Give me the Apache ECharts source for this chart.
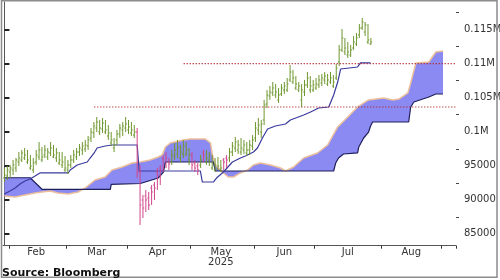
<!DOCTYPE html>
<html><head><meta charset="utf-8">
<script src="https://cdn.jsdelivr.net/npm/echarts@6/dist/echarts.min.js"></script>
<style>html,body{margin:0;padding:0;background:#fff}#c{width:500px;height:280px}</style>
</head><body><div id="c"></div>
<script>
// ---- categories (weekday axis) ----
const startDay = [2025, 0, 30];
const endDay = [2025, 8, 5];
const monthNames = ['Jan','Feb','Mar','Apr','May','Jun','Jul','Aug','Sep','Oct','Nov','Dec'];
const yearLabelMonth = 4; // May carries the year
const yearText = '2025';

// ---- OHLC bars ----
const barOpen = [93200,93500,94080,94380,94670,95550,95850,96140,95550,94670,
94380,95550,96290,95850,96580,96290,96880,96290,96140,95400,
95110,94380,94380,95110,95850,96290,97020,97320,97460,97900,
99080,99820,100550,99960,100400,99960,99370,98350,97610,98790,
99670,100260,100550,100260,99820,99520,99960,94080,89970,90550,
90260,91730,92170,94080,94670,96140,96580,95550,95550,96430,
96730,96140,96730,96730,95850,96580,95400,94960,95110,96880,
95550,95850,94670,94380,94520,94380,95850,96140,96140,97020,
97610,97320,97020,97320,96880,97320,97900,99080,100260,99960,
101730,104080,105250,105700,105400,104670,105550,106140,106140,107610,
107310,106430,106140,104670,105840,106870,106140,106140,106430,106870,
107170,107610,107020,107310,106720,107900,110250,112020,111720,111280,
111280,112310,112900,114220,115250,114660,113190,112900];
const barHigh = [94670,94960,95110,95850,96140,97020,97320,97610,97320,96580,
96140,97320,98490,97760,98050,97610,98490,98050,97610,97020,
97020,96430,95850,96580,97320,97610,98200,98490,98790,99370,
100550,101430,102170,101730,102020,101730,100990,99960,99080,100260,
101140,101430,102170,101730,101430,100990,100550,95110,90700,91440,
91140,92170,92610,94670,95110,96580,97020,96140,97320,98350,
98790,98050,98790,98490,97610,97020,95850,95400,96580,97320,
97320,97020,96580,96140,96290,95850,96140,96580,97610,98490,
99230,98790,99080,98790,98490,98790,99520,101430,102020,101730,
104670,106140,106720,107310,107020,106430,107020,107310,107900,109810,
109080,108190,107310,107020,107610,108780,108190,107610,107900,108340,
108490,108780,108490,108780,108340,109960,112750,115100,113780,113190,
112750,114070,114520,115840,116720,116130,115840,113780];
const barLow = [92610,92910,93200,93640,94080,94960,95550,95850,95260,94380,
93940,95110,95850,95550,96140,95850,96430,96140,95550,95110,
94670,94080,93790,94670,95400,95850,96430,96580,97020,97320,
98490,99080,99960,99520,99820,99670,98790,97900,97020,98050,
99080,99370,99960,99670,99370,99080,93200,86290,87320,88200,
88500,89230,89970,91440,92170,94080,94670,94380,95110,95850,
96140,95550,96140,96430,95110,94380,94080,93640,94670,95550,
95110,94960,94380,94080,94380,94080,94380,94670,95550,96430,
97020,96730,96580,96730,96430,96580,97320,98490,99520,99080,
100990,103490,104670,105250,104960,104230,105250,105550,105840,107310,
107020,106140,105840,103640,105250,106430,105700,105840,106140,106430,
106720,107020,106720,107020,106430,107610,109660,111720,111280,110840,
110990,112020,112600,113780,114960,114070,112900,112750];
const barClose = [93640,94380,94670,95110,95850,96140,96880,96580,95850,94960,
95400,96580,97320,96290,97320,97020,97610,96580,96880,95850,
95550,94670,95110,95850,96580,97020,97610,97900,98050,98790,
99960,100840,101430,100550,101290,100260,99820,98790,98050,99670,
100550,100840,101140,100700,100260,99960,94080,89230,88790,89970,
89230,91140,91730,93640,94380,95850,96140,95260,96580,97320,
97610,97020,97900,97320,96580,95110,94670,94380,95850,96580,
96140,96580,95400,95110,94960,94670,95550,95850,97020,97900,
98490,98050,97610,98050,97320,98050,98790,100550,100990,101140,
103930,105400,105840,106430,105840,105400,106430,106720,107020,108780,
107900,107020,106720,106140,106870,107900,106720,106870,107020,107610,
107900,108190,107610,107900,107310,109370,112020,113780,112310,111720,
112020,113190,113780,115250,116130,115690,113490,113190];

// ---- Ichimoku lines: [bar index, value] ----
const kijun = [[0,90850],[1.9,91290],[3.7,91730],[5.4,92320],[7.1,92760],[8.9,93050],[10.6,93490],[12.3,93940],
[22.1,93940],[22.8,94380],[25.2,95110],[28.7,95550],[29.7,96140],[31.1,96880],[32.1,97610],[34.9,97900],[37.3,98050],
[46.0,98050],[46.7,94230],[67.9,94230],[68.6,92610],[72.4,92610],[73.5,93200],[75.9,94080],[79.0,95550],[81.8,96140],
[83.5,96430],[86.3,97020],[87.7,97610],[89.4,99080],[91.2,100400],[93.9,100840],[97.4,101140],[99.1,101730],
[103.7,102460],[106.1,102900],[108.9,103490],[112.4,103640],[114.1,105400],[115.5,107310],[116.5,109220],
[122.4,109520],[123.4,110110],[126.9,110110]];
const spanA = [[0,90550],[3.7,90410],[7.1,90700],[10.6,91000],[13.0,91140],[15.8,91290],[18.6,91000],[22.1,90850],
[25.5,91140],[28.0,91730],[31.4,92910],[34.9,93350],[37.3,94380],[40.8,94820],[44.3,95400],[47.1,95550],[50.5,95850],
[53.3,96290],[54.7,96580],[55.8,97760],[57.5,98350],[62.0,98790],[64.4,98930],[69.6,98930],[71.4,98350],[72.1,96580],
[73.1,95110],[75.9,93940],[77.6,93350],[79.4,93350],[81.8,93940],[84.2,94380],[86.3,95110],[88.7,95400],[92.2,95110],
[95.7,94670],[97.4,94230],[100.2,94820],[103.7,96140],[108.5,96880],[112.0,98050],[115.5,100700],[119.0,102170],
[122.4,103640],[126.2,104670],[131.4,104960],[134.6,104670],[136.7,104810],[139.8,105700],[140.8,107170],
[142.6,110110],[147.1,110250],[149.5,111720],[152.0,111870]];
const spanB = [[0,93240],[8.9,93240],[13.0,91540],[36.7,91540],[37.0,92270],[47.1,92390],[48.8,92610],[53.3,93200],
[55.1,94080],[55.8,95550],[72.4,95550],[73.1,94230],[114.1,94230],[114.8,95400],[115.8,96140],[117.5,96730],
[122.4,96880],[122.8,97760],[124.5,99080],[126.2,99960],[126.9,100840],[127.6,101430],[140.1,101430],[140.8,103640],
[141.9,104370],[147.1,105110],[149.5,105550],[152.0,105550]];

// ---- horizontal levels ----
const levelStart = [31.1, 62.1];
const levelValue = [103640, 110000];

// ---- y axis ticks ----
const yMajorTicks = [85000, 90000, 95000, 100000, 105000, 110000, 115000];
const yTickLabels = ['85000', '90000', '95000', '0.1M', '0.105M', '0.11M', '0.115M'];
const yMinorTicks = [87500, 92500, 97500, 102500, 107500, 112500, 117500];
const yMin = 83250, yMax = 119070;

// ---- build categories ----
const categories = [];
const endT = Date.UTC(endDay[0], endDay[1], endDay[2]);
for (let t = Date.UTC(startDay[0], startDay[1], startDay[2]); t <= endT; t += 86400000) {
  const d = new Date(t); const w = d.getUTCDay();
  if (w === 0 || w === 6) continue;
  categories.push(d.toISOString().slice(0, 10));
}
const N = categories.length;
const monthStarts = [];
for (let i = 1; i < N; i++) if (categories[i].slice(5, 7) !== categories[i - 1].slice(5, 7)) monthStarts.push(i);
const tickSet = new Set(monthStarts);
const labelSet = new Set();
for (let k = 0; k < monthStarts.length - 1; k++) labelSet.add(Math.floor((monthStarts[k] + monthStarts[k + 1] - 1) / 2));

const GREEN = '#6f972f', PINK = '#d2468a';
const FONT = 'DejaVu Sans';

const chart = echarts.init(document.getElementById('c'), null, {renderer: 'canvas'});
chart.setOption({
  animation: false,
  backgroundColor: '#fff',
  grid: {left: 3, right: 44, top: 2, bottom: 34.3, containLabel: false, outerBoundsMode: 'none'},
  xAxis: [{
    type: 'category', data: categories, boundaryGap: true, position: 'bottom',
    axisLine: {show: true, lineStyle: {color: '#555', width: 1}},
    axisTick: {show: true, interval: (i) => tickSet.has(i), length: 3, lineStyle: {color: '#333'}},
    axisLabel: {
      interval: (i) => labelSet.has(i),
      formatter: (v) => { const m = parseInt(v.slice(5, 7), 10) - 1; return monthNames[m] + (m === yearLabelMonth ? '\n' + yearText : ''); },
      fontSize: 10, fontFamily: FONT, color: '#333', margin: 2, lineHeight: 9.5
    },
    splitLine: {show: false}
  }, {type: 'value', min: -0.5, max: N - 0.5, show: false}],
  yAxis: [{
    type: 'value', position: 'right', min: yMin, max: yMax,
    axisLine: {show: true, lineStyle: {color: '#555', width: 1}},
    axisTick: {show: true, customValues: yMajorTicks, length: 5, lineStyle: {color: '#222', width: 2}},
    axisLabel: {customValues: yMajorTicks, formatter: (v) => yTickLabels[yMajorTicks.indexOf(v)], margin: 8,
      fontSize: 10, fontFamily: FONT, color: '#333'},
    splitLine: {show: false}
  }, {
    type: 'value', position: 'right', min: yMin, max: yMax,
    axisLine: {show: false},
    axisTick: {show: true, customValues: yMinorTicks, length: 3, lineStyle: {color: '#444', width: 1}},
    axisLabel: {show: false}, splitLine: {show: false}
  }],
  series: [
    {
      type: 'custom', xAxisIndex: 1, yAxisIndex: 0, data: [[0, yMin]], silent: true, z: 1,
      renderItem: (params, api) => {
        const pts = spanA.map(p => api.coord(p)).concat(spanB.slice().reverse().map(p => api.coord(p)));
        return {type: 'polygon', shape: {points: pts}, style: {fill: '#8a8af2'}};
      }
    },
    {type: 'line', xAxisIndex: 1, data: spanA, symbol: 'none', z: 2, silent: true,
      lineStyle: {color: '#ecbf9c', width: 1.5}},
    {type: 'line', xAxisIndex: 1, data: spanB, symbol: 'none', z: 2, silent: true,
      lineStyle: {color: '#1f1f5c', width: 1.2}},
    {type: 'line', xAxisIndex: 1, data: kijun, symbol: 'none', z: 3, silent: true,
      lineStyle: {color: '#3a3a9e', width: 1.2}},
    {
      type: 'custom', xAxisIndex: 1, yAxisIndex: 0, z: 4, silent: true,
      data: barClose.map((c, i) => [i, barOpen[i], barHigh[i], barLow[i], c]),
      encode: {x: 0, y: [1, 2, 3, 4]},
      renderItem: (params, api) => {
        const i = api.value(0);
        const o = api.coord([i, api.value(1)]), h = api.coord([i, api.value(2)]),
              l = api.coord([i, api.value(3)]), c = api.coord([i, api.value(4)]);
        const col = api.value(4) >= api.value(1) ? GREEN : PINK;
        const x = h[0];
        const st = {stroke: col, lineWidth: 1};
        return {type: 'group', children: [
          {type: 'line', shape: {x1: x, y1: h[1], x2: x, y2: l[1]}, style: st},
          {type: 'line', shape: {x1: x - 1.3, y1: o[1], x2: x, y2: o[1]}, style: st},
          {type: 'line', shape: {x1: x, y1: c[1], x2: x + 1.3, y2: c[1]}, style: st}
        ]};
      }
    },
    ...levelValue.map((v, k) => ({
      type: 'line', xAxisIndex: 1, symbol: 'none', z: 5, silent: true,
      data: [[levelStart[k], v], [N - 0.5, v]],
      lineStyle: {color: '#b3262a', width: 1.2, type: [1.2, 1.8]}
    }))
  ],
  graphic: [
    {type: 'rect', shape: {x: 1.5, y: 0.75, width: 495.5, height: 276.5}, style: {fill: null, stroke: '#8c8c8c', lineWidth: 1.5}, z: 100, silent: true},
    {type: 'text', left: 2, top: 268, style: {text: 'Source: Bloomberg', font: 'bold 11px "DejaVu Sans"', fill: '#111'}, z: 100}
  ]
});
</script></body></html>
